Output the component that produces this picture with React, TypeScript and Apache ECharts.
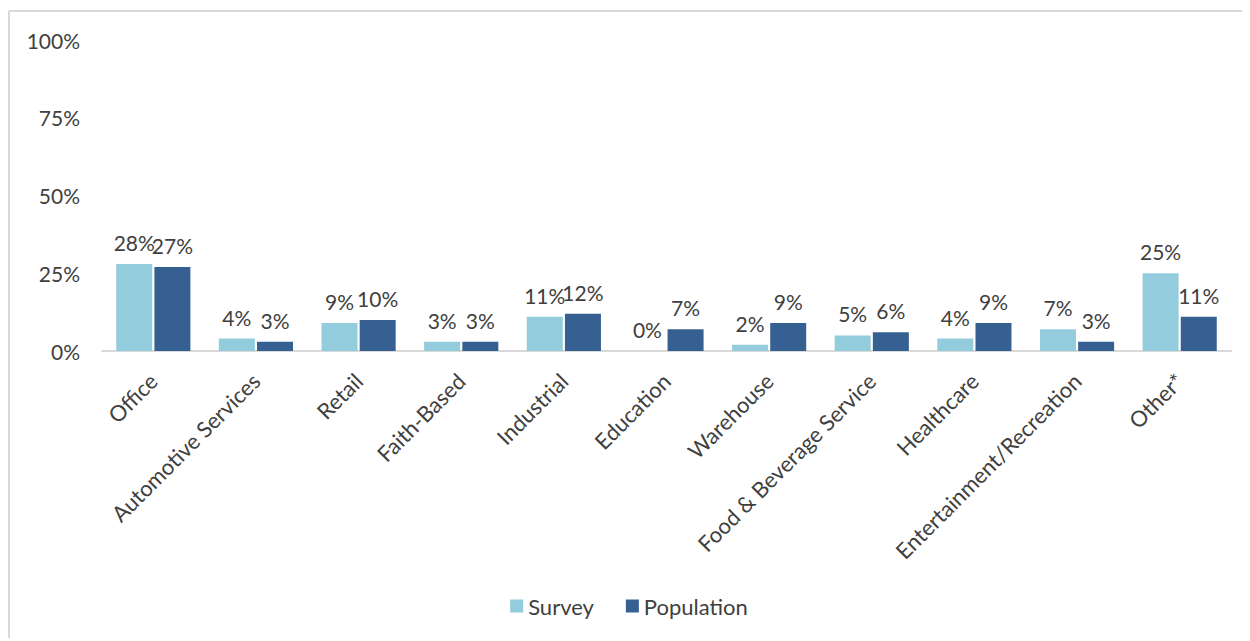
import React, { useEffect, useRef } from "react";
import * as echarts from "echarts";

const categories = [
  "Office",
  "Automotive Services",
  "Retail",
  "Faith-Based",
  "Industrial",
  "Education",
  "Warehouse",
  "Food & Beverage Service",
  "Healthcare",
  "Entertainment/Recreation",
  "Other*",
];
const surveyValues = [28, 4, 9, 3, 11, 0, 2, 5, 4, 7, 25];
const populationValues = [27, 3, 10, 3, 12, 7, 9, 6, 9, 3, 11];
const seriesNames = ["Survey", "Population"];

const FONT = "Lato";
const TEXT = "#404040";

export default function App() {
  const ref = useRef<HTMLDivElement>(null);
  useEffect(() => {
    if (!ref.current) return;
    const chart = echarts.init(ref.current, undefined, { renderer: "svg" });
    const labelCfg = {
      show: true,
      position: "top",
      distance: 11,
      fontFamily: FONT,
      fontSize: 21,
      color: TEXT,
      formatter: (p: any) => p.value + "%",
    };
    chart.setOption({
      animation: false,
      backgroundColor: "#ffffff",
      textStyle: { fontFamily: FONT, color: TEXT },
      graphic: [
        { type: "line", shape: { x1: 1, y1: 3, x2: 1242, y2: 3 }, style: { stroke: "#d9d9d9", lineWidth: 2 } },
        { type: "line", shape: { x1: 1, y1: 3, x2: 1, y2: 633 }, style: { stroke: "#d9d9d9", lineWidth: 2 } },
      ],
      grid: { left: 94, right: 19, top: 32, bottom: 287, containLabel: false },
      legend: {
        bottom: 16,
        left: "center",
        itemWidth: 13,
        itemHeight: 13,
        itemGap: 32,
        icon: "rect",
        textStyle: { fontFamily: FONT, fontSize: 22, color: TEXT },
        data: seriesNames,
      },
      xAxis: {
        type: "category",
        data: categories,
        axisLine: { lineStyle: { color: "#d9d9d9", width: 2 } },
        axisTick: { show: false },
        axisLabel: {
          rotate: 45,
          interval: 0,
          margin: 26,
          fontFamily: FONT,
          fontSize: 22,
          color: TEXT,
        },
      },
      yAxis: {
        type: "value",
        min: 0,
        max: 100,
        interval: 25,
        splitLine: { show: false },
        axisLine: { show: false },
        axisTick: { show: false },
        axisLabel: {
          margin: 22,
          fontFamily: FONT,
          fontSize: 21,
          color: TEXT,
          formatter: (v: number) => v + "%",
        },
      },
      series: [
        {
          name: seriesNames[0],
          type: "bar",
          data: surveyValues,
          barWidth: 36,
          barGap: "6%",
          itemStyle: { color: "#93cddd" },
          label: labelCfg,
        },
        {
          name: seriesNames[1],
          type: "bar",
          data: populationValues,
          barWidth: 36,
          barGap: "6%",
          itemStyle: { color: "#376092" },
          label: labelCfg,
        },
      ],
    });
    return () => chart.dispose();
  }, []);
  return <div ref={ref} style={{ width: 1242, height: 630 }} />;
}
